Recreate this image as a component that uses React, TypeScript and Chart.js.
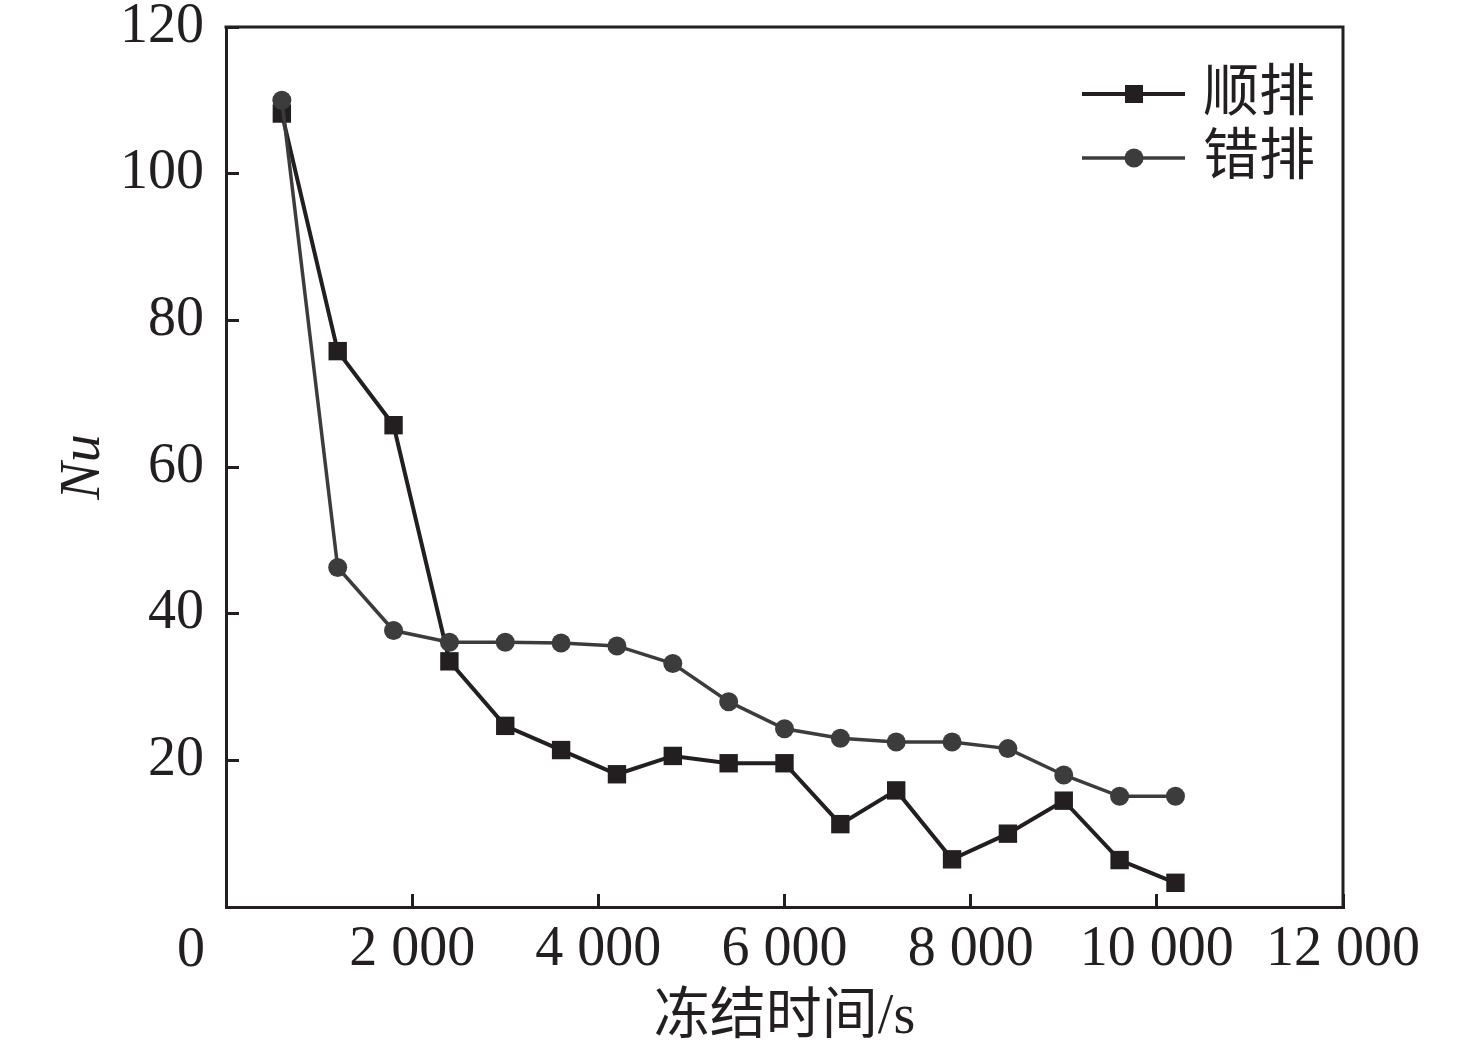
import { useEffect, useRef } from 'react';
import { Chart, registerables } from 'chart.js';

Chart.register(...registerables);

// freezing time (s)
const TIMES = [600, 1200, 1800, 2400, 3000, 3600, 4200, 4800, 5400, 6000, 6600, 7200, 7800, 8400, 9000, 9600, 10200];
// Nu, in-line arrangement (顺排)
const INLINE_NU = [108.2, 75.8, 65.7, 33.5, 24.7, 21.4, 18.1, 20.6, 19.6, 19.6, 11.3, 15.9, 6.5, 10.0, 14.5, 6.4, 3.3];
// Nu, staggered arrangement (错排)
const STAGGERED_NU = [110.0, 46.3, 37.7, 36.1, 36.1, 36.0, 35.6, 33.2, 28.0, 24.3, 23.0, 22.5, 22.5, 21.6, 18.0, 15.1, 15.1];

const SERIES_LABELS = ['顺排', '错排'];
const X_TITLE = '冻结时间/s';
const Y_TITLE = 'Nu';

const INK = '#231f20';
const GREY = '#3c3c3c';
const NUM_FONT = '"Liberation Serif", "Times New Roman", serif';
const CJK_FONT = '"Liberation Serif", "Noto Sans CJK SC", serif';

const withSpace = (v: number) => String(v).replace(/\B(?=(\d{3})+(?!\d))/g, ' ');

const decorations = {
  id: 'decorations',
  afterDraw(chart: Chart) {
    const { ctx } = chart;
    const { left, top, right, bottom } = chart.chartArea;
    ctx.save();

    // top and right frame
    ctx.strokeStyle = INK;
    ctx.lineWidth = 3;
    ctx.beginPath();
    ctx.moveTo(left - 1.5, top);
    ctx.lineTo(right, top);
    ctx.lineTo(right, bottom + 1.5);
    ctx.stroke();

    ctx.fillStyle = INK;
    ctx.textBaseline = 'middle';

    // origin label sits left of the corner
    ctx.font = `56px ${NUM_FONT}`;
    ctx.textAlign = 'center';
    ctx.fillText('0', left - 35, bottom + 44);

    // axis titles
    ctx.font = `56px ${CJK_FONT}`;
    ctx.fillText(X_TITLE, (left + right) / 2, bottom + 111);

    ctx.save();
    ctx.translate(left - 142, (top + bottom) / 2);
    ctx.rotate(-Math.PI / 2);
    ctx.font = `italic 56px ${NUM_FONT}`;
    ctx.fillText(Y_TITLE, 0, 0);
    ctx.restore();

    // legend
    const rows = [
      { label: SERIES_LABELS[0], color: INK, style: 'rect', width: 4 },
      { label: SERIES_LABELS[1], color: GREY, style: 'circle', width: 3.5 },
    ];
    rows.forEach((r, i) => {
      const y = top + 67 + i * 64;
      ctx.strokeStyle = r.color;
      ctx.fillStyle = r.color;
      ctx.lineWidth = r.width;
      ctx.beginPath();
      ctx.moveTo(right - 261, y);
      ctx.lineTo(right - 158, y);
      ctx.stroke();
      const mx = right - 209;
      if (r.style === 'rect') {
        ctx.fillRect(mx - 9, y - 9, 18, 18);
      } else {
        ctx.beginPath();
        ctx.arc(mx, y, 9.5, 0, Math.PI * 2);
        ctx.fill();
      }
      ctx.fillStyle = INK;
      ctx.textAlign = 'left';
      ctx.font = `56px ${CJK_FONT}`;
      ctx.fillText(r.label, right - 140, y + 1);
    });

    ctx.restore();
  },
};

export default function App() {
  const canvasRef = useRef<HTMLCanvasElement>(null);
  const chartRef = useRef<Chart | null>(null);

  useEffect(() => {
    document.body.style.margin = '0';
    if (!canvasRef.current) return;
    if (chartRef.current) chartRef.current.destroy();

    const axisGrid = {
      drawOnChartArea: false,
      drawTicks: true,
      tickLength: -13,
      tickWidth: 3,
      color: INK,
    };
    const axisBorder = { display: true, width: 3, color: INK };

    chartRef.current = new Chart(canvasRef.current, {
      type: 'line',
      data: {
        datasets: [
          {
            label: SERIES_LABELS[1],
            data: TIMES.map((t, i) => ({ x: t, y: STAGGERED_NU[i] })),
            borderColor: GREY,
            backgroundColor: GREY,
            borderWidth: 3.5,
            pointStyle: 'circle',
            pointRadius: 9.5,
            pointBorderWidth: 0,
          },
          {
            label: SERIES_LABELS[0],
            data: TIMES.map((t, i) => ({ x: t, y: INLINE_NU[i] })),
            borderColor: INK,
            backgroundColor: INK,
            borderWidth: 4,
            pointStyle: 'rect',
            pointRadius: 13,
            pointBorderWidth: 0,
          },
        ],
      },
      options: {
        responsive: true,
        maintainAspectRatio: false,
        animation: false,
        devicePixelRatio: 1,
        layout: { padding: { top: 27, right: 133, left: 0, bottom: 0 } },
        plugins: {
          legend: { display: false },
          tooltip: { enabled: false },
        },
        scales: {
          x: {
            type: 'linear',
            min: 0,
            max: 12000,
            grid: axisGrid,
            border: axisBorder,
            ticks: {
              stepSize: 2000,
              color: INK,
              padding: 23,
              maxRotation: 0,
              font: { family: NUM_FONT, size: 56 },
              callback: (v) => (Number(v) === 0 ? '' : withSpace(Number(v))),
            },
            afterFit: (scale) => {
              scale.height = 145;
              scale.paddingLeft = 0;
              scale.paddingRight = 0;
            },
          },
          y: {
            min: 0,
            max: 120,
            grid: axisGrid,
            border: axisBorder,
            ticks: {
              stepSize: 20,
              color: INK,
              padding: 35,
              font: { family: NUM_FONT, size: 56 },
              callback: (v) => (Number(v) === 0 ? '' : String(v)),
            },
            afterFit: (scale) => {
              scale.width = 226;
              scale.paddingTop = 0;
              scale.paddingBottom = 0;
            },
          },
        },
      },
      plugins: [decorations],
    });

    return () => {
      if (chartRef.current) { chartRef.current.destroy(); chartRef.current = null; }
    };
  }, []);

  return (
    <div style={{ width: 1476, height: 1052, position: 'relative', background: '#fff' }}>
      <canvas ref={canvasRef} />
    </div>
  );
}
